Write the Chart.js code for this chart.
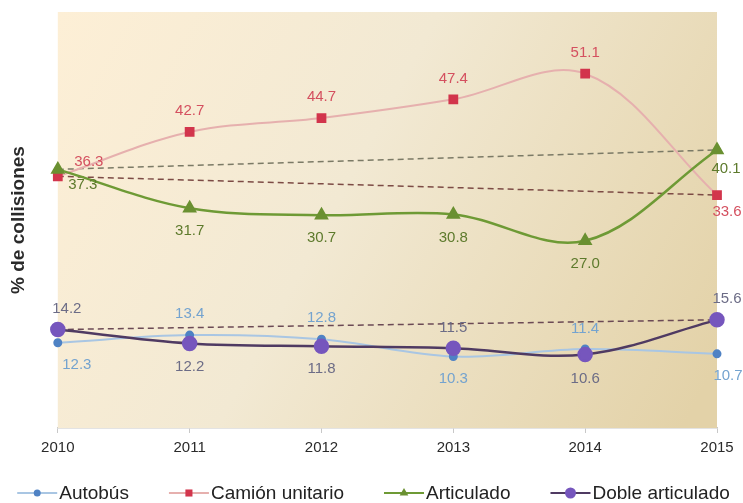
<!DOCTYPE html>
<html>
<head>
<meta charset="utf-8">
<script src="https://cdn.jsdelivr.net/npm/chart.js@4.4.0/dist/chart.umd.min.js"></script>
<style>
  html, body { margin: 0; padding: 0; background: #fff; }
  #wrap { width: 743px; height: 503px; }
</style>
</head>
<body>
<div id="wrap"><canvas id="chart" width="743" height="503"></canvas></div>
<script>
// ==================== 数据 ====================
const years = ['2010', '2011', '2012', '2013', '2014', '2015'];
const autobus = [12.3, 13.4, 12.8, 10.3, 11.4, 10.7];
const camion = [36.3, 42.7, 44.7, 47.4, 51.1, 33.6];
const articulado = [37.3, 31.7, 30.7, 30.8, 27.0, 40.1];
const doble = [14.2, 12.2, 11.8, 11.5, 10.6, 15.6];
const yAxisTitle = '% de collisiones';

// 首尾连线（虚线）：只保留第一个和最后一个值
function firstLast(values) {
    return values.map((v, i) => (i === 0 || i === values.length - 1) ? v : null);
}

const FONT = '"Liberation Sans", Arial, sans-serif';

// ==================== 背景渐变插件 ====================
const bgPlugin = {
    id: 'areaBg',
    beforeDatasetsDraw(chart) {
        const { ctx, chartArea: a } = chart;
        const g = ctx.createLinearGradient(a.left, a.top, a.right, a.bottom * 0.85);
        g.addColorStop(0, '#fdefd6');
        g.addColorStop(0.45, '#f2e9d3');
        g.addColorStop(1, '#e3d2a8');
        ctx.save();
        ctx.fillStyle = g;
        ctx.fillRect(a.left, a.top, a.right - a.left, a.bottom - a.top);
        ctx.restore();
    }
};

// ==================== 数据标签插件 ====================
const valueLabels = {
    id: 'valueLabels',
    afterDatasetsDraw(chart) {
        const ctx = chart.ctx;
        ctx.save();
        ctx.font = '15px ' + FONT;
        ctx.textAlign = 'center';
        ctx.textBaseline = 'middle';
        chart.data.datasets.forEach((ds, i) => {
            if (!ds.labelOffsets) return;
            const meta = chart.getDatasetMeta(i);
            ctx.fillStyle = ds.labelColor;
            meta.data.forEach((pt, j) => {
                const off = ds.labelOffsets[j];
                ctx.fillText(ds.data[j].toFixed(1), pt.x + off[0], pt.y + off[1]);
            });
        });
        ctx.restore();
    }
};

// ==================== 图例插件（线 + 标记） ====================
const lineLegend = {
    id: 'lineLegend',
    afterDraw(chart) {
        const ctx = chart.ctx;
        const items = chart.data.datasets.filter(ds => !ds.isTrend);
        const lineLen = 40, textGap = 2, itemGap = 40;
        ctx.save();
        ctx.font = '19px ' + FONT;
        const widths = items.map(ds => lineLen + textGap + ctx.measureText(ds.label).width);
        const total = widths.reduce((s, w) => s + w, 0) + itemGap * (items.length - 1);
        let x = (chart.width - total) / 2 + 2;
        const y = 493;
        items.forEach((ds, k) => {
            ctx.strokeStyle = ds.borderColor;
            ctx.lineWidth = 2;
            ctx.beginPath();
            ctx.moveTo(x, y);
            ctx.lineTo(x + lineLen, y);
            ctx.stroke();
            ctx.fillStyle = ds.pointBackgroundColor;
            ctx.strokeStyle = ds.pointBackgroundColor;
            Chart.helpers.drawPoint(ctx, {
                pointStyle: ds.pointStyle,
                radius: ds.legendRadius,
                borderWidth: 0,
                rotation: 0
            }, x + lineLen / 2, y);
            ctx.fillStyle = '#222';
            ctx.textAlign = 'left';
            ctx.textBaseline = 'middle';
            ctx.fillText(ds.label, x + lineLen + textGap, y + 1);
            x += widths[k] + itemGap;
        });
        ctx.restore();
    }
};

// ==================== 创建图表 ====================
const ctx = document.getElementById('chart').getContext('2d');
new Chart(ctx, {
    type: 'line',
    data: {
        labels: years,
        datasets: [
            {
                label: 'Autobús',
                data: autobus,
                borderColor: '#a9c6e3',
                pointBackgroundColor: '#4f82c4',
                pointBorderColor: '#4f82c4',
                pointStyle: 'circle',
                pointRadius: 3.5,
                legendRadius: 3.5,
                borderWidth: 2,
                tension: 0.35,
                order: 3,
                labelColor: '#74a3cf',
                labelOffsets: [[19, 22], [0, -21], [0, -21], [0, 22], [0, -20], [11, 22]]
            },
            {
                label: 'Camión unitario',
                data: camion,
                borderColor: '#e6b0ae',
                pointBackgroundColor: '#d2354c',
                pointBorderColor: '#d2354c',
                pointStyle: 'rect',
                pointRadius: 5.5,
                legendRadius: 5,
                borderWidth: 2,
                tension: 0.35,
                order: 4,
                labelColor: '#d4505f',
                labelOffsets: [[31, -14], [0, -21], [0, -21], [0, -21], [0, -21], [10, 17]]
            },
            {
                label: 'Articulado',
                data: articulado,
                borderColor: '#6e9a35',
                pointBackgroundColor: '#6a9031',
                pointBorderColor: '#6a9031',
                pointStyle: 'triangle',
                pointRadius: 6,
                legendRadius: 5,
                borderWidth: 2.5,
                tension: 0.35,
                order: 2,
                labelColor: '#5d7a2c',
                labelOffsets: [[25, 15], [0, 23], [0, 23], [0, 23], [0, 23], [9, 19]]
            },
            {
                label: 'Doble articulado',
                data: doble,
                borderColor: '#4f3a62',
                pointBackgroundColor: '#7656bd',
                pointBorderColor: '#7656bd',
                pointStyle: 'circle',
                pointRadius: 6.5,
                legendRadius: 5.5,
                borderWidth: 2.5,
                tension: 0.35,
                order: 1,
                labelColor: '#6c6c86',
                labelOffsets: [[9, -21], [0, 23], [0, 23], [0, -20], [0, 24], [10, -21]]
            },
            // 首尾虚线
            {
                label: 'trend-camion', isTrend: true, data: firstLast(camion),
                borderColor: '#7c4b45', borderDash: [6, 4], borderWidth: 1.5,
                pointRadius: 0, spanGaps: true, order: 9
            },
            {
                label: 'trend-articulado', isTrend: true, data: firstLast(articulado),
                borderColor: '#7b7a66', borderDash: [6, 4], borderWidth: 1.5,
                pointRadius: 0, spanGaps: true, order: 9
            },
            {
                label: 'trend-doble', isTrend: true, data: firstLast(doble),
                borderColor: '#6b4a55', borderDash: [6, 4], borderWidth: 1.5,
                pointRadius: 0, spanGaps: true, order: 9
            }
        ]
    },
    options: {
        responsive: false,
        animation: false,
        devicePixelRatio: 1,
        layout: { padding: { top: 12, right: 26, bottom: 40, left: 0 } },
        plugins: {
            legend: { display: false },
            tooltip: { enabled: false }
        },
        scales: {
            x: {
                grid: { display: true, drawOnChartArea: false, drawTicks: true, tickLength: 5, color: '#c8c8c8' },
                border: { display: true, color: '#c8c8c8', width: 1.5 },
                ticks: { color: '#2a2a2a', padding: 6, font: { family: FONT, size: 15 } }
            },
            y: {
                min: 0,
                max: 60,
                grid: { display: false },
                border: { display: false },
                ticks: { display: false },
                title: {
                    display: true,
                    text: yAxisTitle,
                    color: '#2a2a2a',
                    padding: { top: 7, bottom: 20 },
                    font: { family: FONT, size: 19, weight: 'bold' }
                }
            }
        }
    },
    plugins: [bgPlugin, valueLabels, lineLegend]
});
</script>
</body>
</html>
